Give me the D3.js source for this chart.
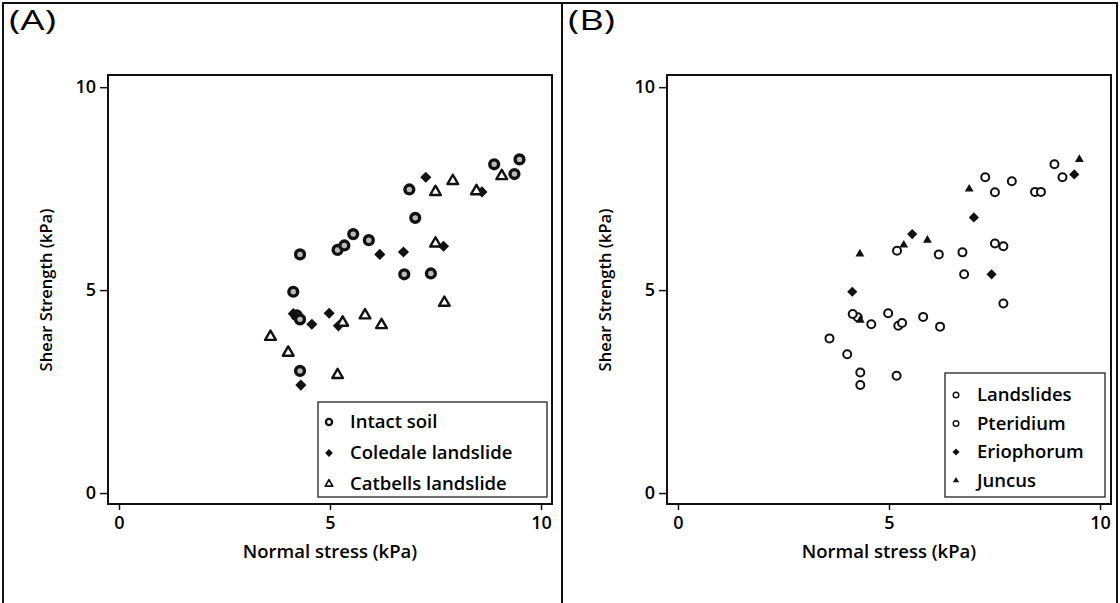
<!DOCTYPE html>
<html>
<head>
<meta charset="utf-8">
<script src="https://cdn.jsdelivr.net/npm/d3@7"></script>
<style>
  body { margin: 0; background: #fff; }
  text { font-family: "Open Sans", sans-serif; fill: #000; font-weight: 600; }
</style>
</head>
<body>
<script>
// panel A data (x = normal stress, y = shear strength, kPa)
const intactX   = [9.49, 8.89, 9.37, 6.88, 7.02, 5.55, 5.92, 5.18, 5.34, 4.29, 6.76, 7.39, 4.13, 4.21, 4.29, 4.29];
const intactY   = [8.22, 8.10, 7.86, 7.48, 6.78, 6.38, 6.23, 5.99, 6.10, 5.88, 5.39, 5.41, 4.96, 4.38, 4.28, 3.01];
const coledaleX = [7.27, 8.60, 6.18, 6.74, 7.69, 4.98, 4.57, 4.13, 5.20, 4.31];
const coledaleY = [7.78, 7.42, 5.88, 5.94, 6.08, 4.43, 4.16, 4.42, 4.12, 2.66];
const catbellsX = [7.91, 9.07, 7.50, 8.47, 7.50, 7.71, 5.83, 6.22, 5.30, 3.59, 4.01, 5.18];
const catbellsY = [7.69, 7.81, 7.42, 7.44, 6.15, 4.69, 4.38, 4.14, 4.20, 3.85, 3.46, 2.91];

// panel B data
const landslideX  = [9.11, 7.28, 7.91, 7.51, 8.46, 8.60, 7.51, 7.71, 6.18, 6.74, 7.71, 4.26, 4.58, 4.98, 5.22, 5.31, 5.81, 6.21, 3.59, 4.01, 4.32, 5.18];
const landslideY  = [7.78, 7.78, 7.68, 7.41, 7.42, 7.42, 6.15, 6.08, 5.88, 5.93, 4.67, 4.33, 4.16, 4.43, 4.12, 4.19, 4.34, 4.10, 3.81, 3.42, 2.66, 2.89];
const pteridiumX  = [8.92, 5.19, 6.78, 4.14, 4.32];
const pteridiumY  = [8.10, 5.97, 5.39, 4.41, 2.97];
const eriophorumX = [9.39, 7.01, 5.55, 7.43, 4.13];
const eriophorumY = [7.85, 6.79, 6.38, 5.39, 4.96];
const juncusX     = [9.51, 6.90, 5.91, 5.35, 4.31, 4.32];
const juncusY     = [8.22, 7.49, 6.23, 6.11, 5.89, 4.26];

const tickValues = [0, 5, 10];
const xTitle = "Normal stress (kPa)";
const yTitle = "Shear Strength (kPa)";

const width = 1120, height = 603;

const svg = d3.select("body").append("svg")
    .attr("width", width)
    .attr("height", height);

// outer panel frames
svg.append("path")
    .attr("d", "M3,603 V3 H1117 V603 M562,3 V603")
    .attr("fill", "none")
    .attr("stroke", "#111")
    .attr("stroke-width", 2);

// marker styles
const styles = {
  ringA:    { shape: "circle", r: 4.4, fill: "#bbb", stroke: 3.4 },
  diamondA: { shape: d3.symbolSquare, size: 62, rot: 45, fill: "#111", stroke: 0 },
  triA:     { shape: d3.symbolTriangle, size: 50, fill: "#fff", stroke: 2.4 },
  openB:    { shape: "circle", r: 4, fill: "#fff", stroke: 2 },
  diamondB: { shape: d3.symbolSquare, size: 52, rot: 45, fill: "#111", stroke: 0 },
  triB:     { shape: d3.symbolTriangle, size: 34, fill: "#111", stroke: 0 }
};

function drawMarker(g, st, cx, cy, scale) {
  scale = scale || 1;
  if (st.shape === "circle") {
    g.append("circle")
        .attr("cx", cx).attr("cy", cy)
        .attr("r", st.r * scale)
        .attr("fill", scale < 1 ? "#fff" : st.fill)
        .attr("stroke", "#111")
        .attr("stroke-width", st.stroke * (scale < 1 ? 0.7 : 1));
  } else {
    g.append("path")
        .attr("d", d3.symbol(st.shape, st.size * scale * scale)())
        .attr("transform", `translate(${cx},${cy}) rotate(${st.rot || 0})`)
        .attr("fill", st.fill)
        .attr("stroke", st.stroke ? "#111" : "none")
        .attr("stroke-width", st.stroke * (scale < 1 ? 0.7 : 1))
        .attr("stroke-linejoin", "round");
  }
}

function drawPanel(ox, label, series, legend) {
  const g = svg.append("g").attr("transform", `translate(${ox},0)`);

  const x = d3.scaleLinear().domain([-0.26, 10.26]).range([108, 552]);
  const y = d3.scaleLinear().domain([-0.27, 10.3]).range([504, 75]);

  g.append("text")
      .attr("x", 9).attr("y", 30)
      .attr("font-size", 28)
      .style("font-weight", 400)
      .attr("textLength", 47)
      .attr("lengthAdjust", "spacingAndGlyphs")
      .text(label);

  // x axis
  const xa = g.append("g")
      .attr("transform", "translate(0,504)")
      .call(d3.axisBottom(x).tickValues(tickValues).tickSize(6).tickPadding(6).tickFormat(d3.format("d")));
  xa.select(".domain").remove();
  xa.selectAll("line").attr("stroke", "#111").attr("stroke-width", 1.5);
  xa.selectAll("text").attr("font-size", 18).attr("fill", "#000");

  // y axis
  const ya = g.append("g")
      .attr("transform", "translate(108,0)")
      .call(d3.axisLeft(y).tickValues(tickValues).tickSize(8).tickPadding(4).tickFormat(d3.format("d")));
  ya.select(".domain").remove();
  ya.selectAll("line").attr("stroke", "#111").attr("stroke-width", 1.5);
  ya.selectAll("text").attr("font-size", 18).attr("fill", "#000");

  // plot frame
  g.append("rect")
      .attr("x", 108).attr("y", 75)
      .attr("width", 444).attr("height", 429)
      .attr("fill", "none")
      .attr("stroke", "#111")
      .attr("stroke-width", 2);

  g.append("text")
      .attr("x", 330).attr("y", 558)
      .attr("text-anchor", "middle")
      .attr("font-size", 18.5)
      .text(xTitle);

  g.append("text")
      .attr("transform", "translate(52,290) rotate(-90)")
      .attr("text-anchor", "middle")
      .attr("font-size", 16.5)
      .text(yTitle);

  // points
  const pts = g.append("g");
  series.forEach(s => {
    s.xs.forEach((v, i) => drawMarker(pts, s.style, x(v), y(s.ys[i])));
  });

  // legend
  const lg = g.append("g");
  lg.append("rect")
      .attr("x", legend.x).attr("y", legend.y)
      .attr("width", legend.w).attr("height", legend.h)
      .attr("fill", "#fff")
      .attr("stroke", "#222")
      .attr("stroke-width", 1.3);
  legend.items.forEach((it, i) => {
    const cy = legend.y + legend.first + i * legend.step;
    drawMarker(lg, it.style, legend.x + 11, cy, 0.7);
    lg.append("text")
        .attr("x", legend.x + 32)
        .attr("y", cy)
        .attr("dy", "0.35em")
        .attr("font-size", 18.5)
        .text(it.name);
  });
}

drawPanel(0, "(A)",
  [
    { xs: intactX, ys: intactY, style: styles.ringA },
    { xs: coledaleX, ys: coledaleY, style: styles.diamondA },
    { xs: catbellsX, ys: catbellsY, style: styles.triA }
  ],
  { x: 318, y: 402, w: 229, h: 95, first: 20, step: 31,
    items: [
      { name: "Intact soil", style: styles.ringA },
      { name: "Coledale landslide", style: styles.diamondA },
      { name: "Catbells landslide", style: styles.triA }
    ] });

drawPanel(559, "(B)",
  [
    { xs: landslideX, ys: landslideY, style: styles.openB },
    { xs: pteridiumX, ys: pteridiumY, style: styles.openB },
    { xs: eriophorumX, ys: eriophorumY, style: styles.diamondB },
    { xs: juncusX, ys: juncusY, style: styles.triB }
  ],
  { x: 386, y: 373, w: 160, h: 124, first: 22, step: 28.5,
    items: [
      { name: "Landslides", style: styles.openB },
      { name: "Pteridium", style: styles.openB },
      { name: "Eriophorum", style: styles.diamondB },
      { name: "Juncus", style: styles.triB }
    ] });
</script>
</body>
</html>
